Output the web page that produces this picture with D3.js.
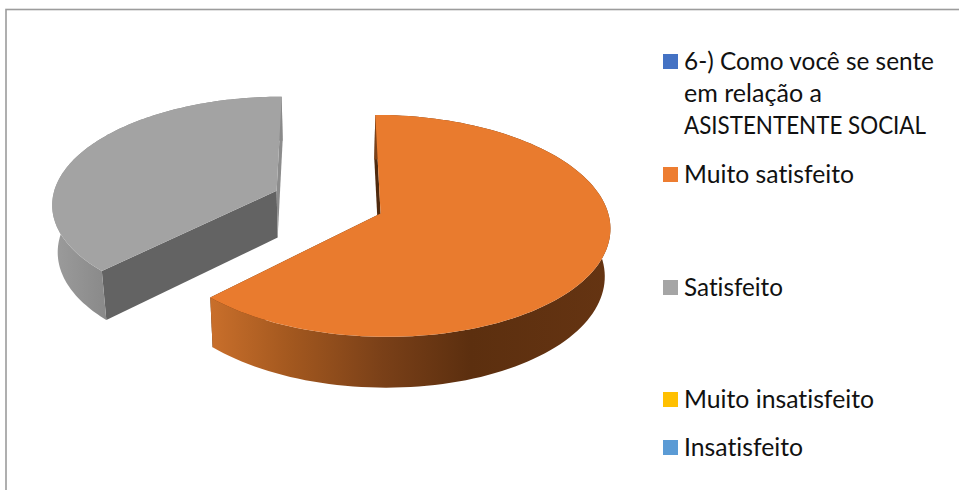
<!DOCTYPE html>
<html>
<head>
<meta charset="utf-8">
<script src="https://cdn.jsdelivr.net/npm/d3@7"></script>
<style>
    body { margin: 0; background: #fff; }
    text { font-family: Lato, "Open Sans", sans-serif; font-size: 24.5px; fill: #111; font-variant-ligatures: none; }
</style>
</head>
<body>
<div id="chart"></div>
<script>
// values
const categories = ["6-) Como você se sente em relação a ASISTENTENTE SOCIAL", "Muito satisfeito", "Satisfeito", "Muito insatisfeito", "Insatisfeito"];
const values = [0, 62.5, 37.5, 0, 0];
const colors = ["#4472c4", "#ed7d31", "#a5a5a5", "#ffc000", "#5b9bd5"];
const legendLines = [["6-) Como você se sente", "em relação a", "ASISTENTENTE SOCIAL"], ["Muito satisfeito"], ["Satisfeito"], ["Muito insatisfeito"], ["Insatisfeito"]];
const legendTops = [54, 167, 280, 392, 440];
// measured line widths, the fallback font runs wider than the original
const legendWidths = [[250, 138, 242], [170], [99], [190], [119]];

const width = 959, height = 490;

// perspective settings for the tilted pie
const cam = { cx: 328, cy: 202, rx: 225, ry: 107, p: 0.111, depth: 47, shrink: 0.02, explode: 0.25, lift: 1.1 };

const svg = d3.select("#chart").append("svg")
    .attr("width", width)
    .attr("height", height);

// chart frame
svg.append("rect")
    .attr("x", 6).attr("y", 9.5)
    .attr("width", 980).attr("height", 500)
    .attr("fill", "#fff")
    .attr("stroke", "#9c9c9c")
    .attr("stroke-width", 1.6);

// wall gradients run along the x axis of the page
const defs = svg.append("defs");
const orangeWall = defs.append("linearGradient").attr("id", "orangeWall")
    .attr("gradientUnits", "userSpaceOnUse")
    .attr("x1", 210).attr("x2", 610).attr("y1", 0).attr("y2", 0);
[[0, "#c96f2b"], [0.2, "#a3581f"], [0.43, "#7a4018"], [0.65, "#5c2f0f"], [1, "#653412"]].forEach(s => {
    orangeWall.append("stop").attr("offset", s[0]).attr("stop-color", s[1]);
});
const grayWall = defs.append("linearGradient").attr("id", "grayWall")
    .attr("gradientUnits", "userSpaceOnUse")
    .attr("x1", 52).attr("x2", 104).attr("y1", 0).attr("y2", 0);
[[0, "#9c9c9c"], [1, "#8a8a8a"]].forEach(s => {
    grayWall.append("stop").attr("offset", s[0]).attr("stop-color", s[1]);
});

const sideStyles = {
    1: { wall: "url(#orangeWall)", top: "#e97b2e", start: "#4f2a0e", end: "#5c3010" },
    2: { wall: "url(#grayWall)", top: "#a3a3a3", start: "#636363", end: "#8c8c8c" }
};

// z = 0 top plane, z = 1 bottom plane
function project(X, Y, z) {
    const s = 1 / (1 - cam.p * Y);
    const k = 1 - cam.shrink * z;
    return [
        cam.cx + cam.rx * X * s * k,
        cam.cy + cam.ry * Y * s * k + cam.depth * s * z
    ];
}

const pie = d3.pie().sort(null).value(d => d);
const arcs = pie(values);
const line = d3.line();

arcs.filter(a => a.value > 0).forEach(a => {
    const mid = (a.startAngle + a.endAngle) / 2;
    const ox = cam.explode * Math.sin(mid);
    const oy = -cam.explode * cam.lift * Math.cos(mid);
    const rim = (t, z) => project(ox + Math.sin(t), oy - Math.cos(t), z);
    const apex = z => project(ox, oy, z);

    const angles = d3.range(0, 121).map(i => a.startAngle + (a.endAngle - a.startAngle) * i / 120);
    const style = sideStyles[a.index];
    const g = svg.append("g");

    // radial faces
    g.append("path")
        .attr("d", line([apex(0), rim(a.startAngle, 0), rim(a.startAngle, 1), apex(1)]) + "Z")
        .attr("fill", style.start);
    g.append("path")
        .attr("d", line([apex(0), rim(a.endAngle, 0), rim(a.endAngle, 1), apex(1)]) + "Z")
        .attr("fill", style.end);

    // outer wall
    const wall = angles.map(t => rim(t, 0)).concat(angles.slice().reverse().map(t => rim(t, 1)));
    g.append("path")
        .attr("d", line(wall) + "Z")
        .attr("fill", style.wall);

    // top
    const top = [apex(0)].concat(angles.map(t => rim(t, 0)));
    g.append("path")
        .attr("d", line(top) + "Z")
        .attr("fill", style.top);
});

// legend
const legend = svg.append("g");
categories.forEach((c, i) => {
    legend.append("rect")
        .attr("x", 663).attr("y", legendTops[i])
        .attr("width", 15).attr("height", 15)
        .attr("fill", colors[i]);
    legendLines[i].forEach((l, j) => {
        legend.append("text")
            .attr("x", 684)
            .attr("y", legendTops[i] + 16 + j * 32)
            .attr("textLength", legendWidths[i][j])
            .attr("lengthAdjust", "spacingAndGlyphs")
            .text(l);
    });
});
</script>
</body>
</html>
